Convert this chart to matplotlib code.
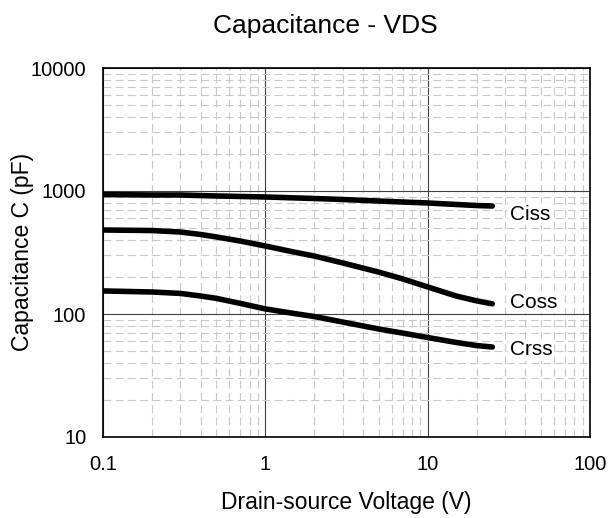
import matplotlib
matplotlib.use("Agg")
import matplotlib.pyplot as plt
from matplotlib.ticker import LogLocator, FixedLocator, NullFormatter

plt.rcParams['font.family'] = ['Liberation Sans', 'DejaVu Sans']

# data
vds_ciss = [0.1, 0.2, 0.3, 0.5, 0.7, 1, 2, 3, 5, 7, 10, 15, 20, 25]
ciss = [936, 928, 928, 911, 903, 894, 869, 853, 829, 814, 799, 777, 762, 755]

vds_coss = [0.1, 0.2, 0.3, 0.4, 0.5, 0.7, 1, 1.5, 2, 3, 5, 7, 10, 15, 20, 25]
coss = [482, 477, 464, 443, 423, 392, 357, 319, 296, 260, 219, 193, 166, 140, 128, 121]

vds_crss = [0.1, 0.2, 0.3, 0.4, 0.5, 0.7, 1, 1.5, 2, 3, 5, 7, 10, 15, 20, 25]
crss = [154, 151, 147, 140, 134, 122, 110, 101, 95.4, 86, 75.5, 70, 64.4, 58.7, 55.4, 53.9]

labels = ['Ciss', 'Coss', 'Crss']
label_x = [32, 32, 32]
label_y = [650, 125, 51]

x_ticks = [0.1, 1, 10, 100]
x_ticklabels = ['0.1', '1', '10', '100']
y_ticks = [10, 100, 1000, 10000]
y_ticklabels = ['10', '100', '1000', '10000']

fig = plt.figure(figsize=(6.09, 5.18), dpi=100)
ax = fig.add_axes([103 / 609, 1 - 437 / 518, 487 / 609, 369 / 518])

ax.set_xscale('log')
ax.set_yscale('log')
ax.set_xlim(0.1, 100)
ax.set_ylim(10, 10000)

ax.xaxis.set_major_locator(FixedLocator(x_ticks))
ax.set_xticklabels(x_ticklabels)
ax.yaxis.set_major_locator(FixedLocator(y_ticks))
ax.set_yticklabels(y_ticklabels)
ax.xaxis.set_minor_locator(LogLocator(base=10, subs=range(2, 10)))
ax.yaxis.set_minor_locator(LogLocator(base=10, subs=range(2, 10)))
ax.xaxis.set_minor_formatter(NullFormatter())
ax.yaxis.set_minor_formatter(NullFormatter())

ax.grid(which='minor', color='#c8c8c8', linestyle=(0, (7, 4)), linewidth=0.8)
ax.grid(which='major', color='#404040', linestyle='-', linewidth=0.8)
ax.set_axisbelow(True)

ax.tick_params(which='both', length=0, labelsize=14.5, colors='black')
ax.tick_params(axis='x', pad=13)
ax.tick_params(axis='y', pad=12)

for s in ax.spines.values():
    s.set_linewidth(1.2)
    s.set_color('black')

for v, vals in ((vds_ciss, ciss), (vds_coss, coss), (vds_crss, crss)):
    ax.plot(v, vals, color='black', linewidth=4, solid_capstyle='round',
            solid_joinstyle='round')

for name, lx, ly in zip(labels, label_x, label_y):
    ax.text(lx, ly, name, fontsize=15, va='center', ha='left',
            bbox=dict(facecolor='white', edgecolor='none', pad=1))

fig.text(325 / 609, 1 - 26 / 518, 'Capacitance - VDS', fontsize=19,
         ha='center', va='center')
fig.text(346 / 609, 1 - 503 / 518, 'Drain-source Voltage (V)', fontsize=16.5,
         ha='center', va='center')
fig.text(23 / 609, 1 - 252 / 518, 'Capacitance C (pF)', fontsize=16.5,
         ha='center', va='center', rotation=90)

fig.savefig('out.png', dpi=100, facecolor='white')
